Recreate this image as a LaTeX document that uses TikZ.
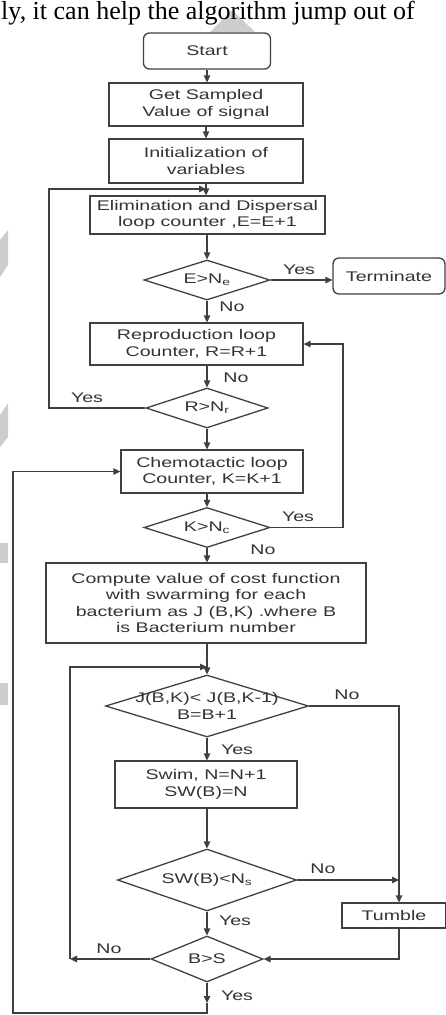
\documentclass[tikz,border=0pt]{standalone}
\usepackage{fontspec}
\newfontfamily\flow{Liberation Sans}[FakeStretch=1.4]
\newfontfamily\pagefont{Liberation Serif}
\usetikzlibrary{arrows.meta,shapes.geometric}
\definecolor{ln}{HTML}{404040}
\definecolor{tx}{HTML}{333333}
\definecolor{wm}{HTML}{CDCDCD}
\begin{document}
\begin{tikzpicture}[x=1pt,y=-1pt,
  font=\flow\fontsize{14}{16.5}\selectfont,
  box/.style={draw=ln, line width=1.3pt, fill=white, rectangle, inner sep=0pt, align=center, text=tx},
  rbox/.style={box, rounded corners=6pt},
  dia/.style={draw=ln, line width=1.3pt, fill=white, diamond, inner sep=0pt},
  dtext/.style={text=tx, inner sep=0pt, align=center},
  lbl/.style={text=tx, inner sep=0pt},
  line/.style={draw=ln, line width=1.3pt},
  arr/.style={line, -{Triangle[length=7pt,width=6.5pt]}}]
\useasboundingbox (0,0) rectangle (446,1015);
% page text and watermark pieces
\fill[wm] (210,32) -- (232,10) -- (255,32) -- cycle;
\node[anchor=base west, inner sep=0pt, font=\pagefont\fontsize{26}{26}\selectfont, text=black] (pagetext) at (1,19) {ly, it can help the algorithm jump out of};
\fill[wm] (0,240) -- (8,230) -- (8,265) -- (0,277) -- cycle;
\fill[wm] (0,415) -- (8,403) -- (8,437) -- (0,447) -- cycle;
\fill[wm] (0,543) rectangle (8,563);
\fill[wm] (0,683) rectangle (8,705);
% nodes
\node[rbox, minimum width=127, minimum height=36] (start) at (207,51) {Start};
\node[box, minimum width=194, minimum height=43] (get) at (206,104.5) {Get Sampled\\Value of signal};
\node[box, minimum width=194, minimum height=44] (init) at (206,161) {Initialization of\\variables};
\node[box, minimum width=235, minimum height=38] (elim) at (207.5,215) {Elimination and Dispersal\\loop counter ,E=E+1};
\node[dia, minimum width=126, minimum height=40] (E) at (207,280) {};
\node[dtext] (Et) at (E) {E>N\textsubscript{e}};
\node[rbox, minimum width=112, minimum height=36] (term) at (389,276) {Terminate};
\node[box, minimum width=213, minimum height=42] (repro) at (196.5,344) {Reproduction loop\\Counter, R=R+1};
\node[dia, minimum width=122, minimum height=40] (R) at (207,408) {};
\node[dtext] (Rt) at (R) {R>N\textsubscript{r}};
\node[box, minimum width=182, minimum height=43] (chemo) at (212,471.5) {Chemotactic loop\\Counter, K=K+1};
\node[dia, minimum width=126, minimum height=40] (K) at (207,527.5) {};
\node[dtext] (Kt) at (K) {K>N\textsubscript{c}};
\node[box, minimum width=320, minimum height=80] (comp) at (206,603) {Compute value of cost function\\with swarming for each\\bacterium as J (B,K) .where B\\is Bacterium number};
\node[dia, minimum width=203, minimum height=62] (J) at (207,706) {};
\node[dtext] (Jt) at (J) {J(B,K)< J(B,K-1)\\B=B+1};
\node[box, minimum width=182, minimum height=47] (swim) at (206,784.5) {Swim, N=N+1\\SW(B)=N};
\node[dia, minimum width=179, minimum height=62] (SW) at (207,880) {};
\node[dtext] (SWt) at (SW) {SW(B)<N\textsubscript{s}};
\node[box, minimum width=104, minimum height=25] (tumble) at (394,915.5) {Tumble};
\node[dia, minimum width=112, minimum height=46] (B) at (207,959) {};
\node[dtext] (Bt) at (B) {B>S};
% helper coordinates
\coordinate (L1) at (49,189);
\coordinate (RL) at (343,344);
\coordinate (TR) at (399,706);
\coordinate (IL) at (70,667);
\coordinate (FL) at (13,1013);
\coordinate (BB) at (207,1013);
\coordinate (BY) at (207,1003);
% connectors
\draw[arr] (start.south) -- (start.south |- get.north);
\draw[arr] (get.south) -- (get.south |- init.north);
\draw[arr] (init.south) -- (init.south |- elim.north);
\draw[arr] (R.west) -- (R.west -| L1) -- (L1) -- (L1 -| init.south);
\draw[arr] (elim.south -| E.north) -- (E.north);
\draw[arr] (E.east) -- (E.east -| term.west);
\draw[arr] (E.south) -- (E.south |- repro.north);
\draw[arr] (R.north |- repro.south) -- (R.north);
\draw[arr] (R.south) -- (R.south |- chemo.north);
\draw[arr] (K.north |- chemo.south) -- (K.north);
\draw[arr] (K.east) -- (K.east -| RL) -- (RL) -- (repro.east);
\draw[arr] (K.south) -- (K.south |- comp.north);
\draw[arr] (J.north |- comp.south) -- (J.north);
\draw[arr] (B.west) -- (B.west -| IL);
\draw[arr] (B.west -| IL) -- (IL) -- (IL -| J.north);
\draw[arr] (J.south) -- (J.south |- swim.north);
\draw[arr] (SW.north |- swim.south) -- (SW.north);
\draw[arr] (SW.south) -- (B.north);
\draw[arr] (J.east) -- (TR) -- (TR |- tumble.north);
\draw[arr] (SW.east) -- (SW.east -| TR);
\draw[arr] (TR |- tumble.south) -- (TR |- B.east) -- (B.east);
\draw[arr] (B.south) -- (BY);
\draw[arr] (BY) -- (BB) -- (FL) -- (FL |- chemo.west) -- (chemo.west);
% labels
\node[lbl] (l1) at (299,270) {Yes};
\node[lbl] (l2) at (232,307) {No};
\node[lbl] (l3) at (236,378) {No};
\node[lbl] (l4) at (87,398) {Yes};
\node[lbl] (l5) at (298,517) {Yes};
\node[lbl] (l6) at (263,550) {No};
\node[lbl] (l7) at (347,695) {No};
\node[lbl] (l8) at (237,750) {Yes};
\node[lbl] (l9) at (323,869) {No};
\node[lbl] (l10) at (235,921) {Yes};
\node[lbl] (l11) at (109,949) {No};
\node[lbl] (l12) at (237,996) {Yes};
\end{tikzpicture}
\end{document}
